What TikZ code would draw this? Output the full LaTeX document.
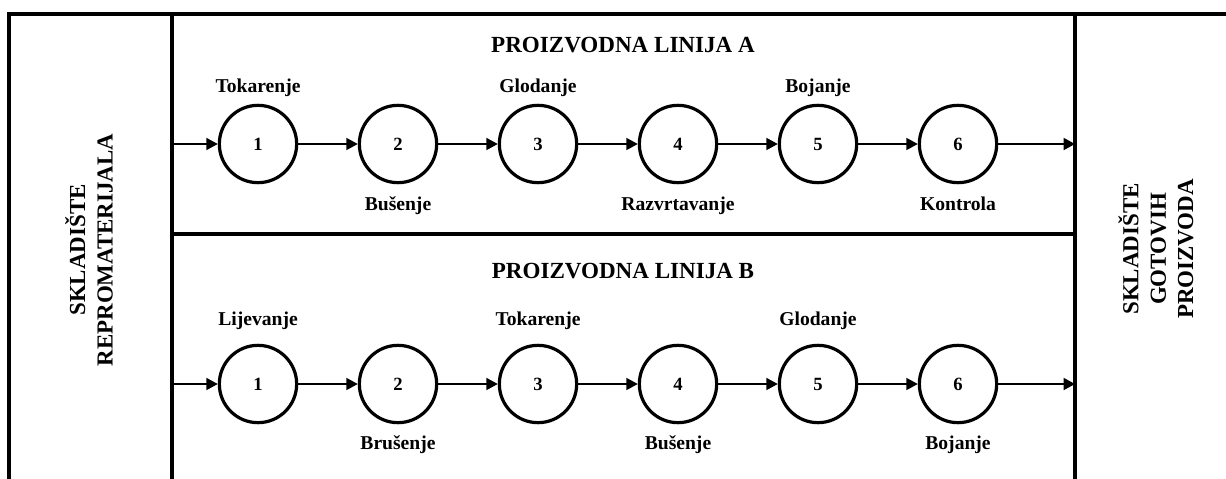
\documentclass[tikz,border=0pt]{standalone}
\usepackage{fontspec}
\setmainfont{Liberation Serif}
\usetikzlibrary{arrows.meta}

\begin{document}
\begin{tikzpicture}[x=0.75pt, y=-0.75pt,
    frame/.style={line width=2.4pt},
    op/.style={circle, draw, line width=2.4pt, minimum size=58pt, inner sep=0pt, font=\bfseries\fontsize{14}{16}\selectfont},
    flow/.style={line width=1.1pt, -{Triangle[length=8.5pt, width=9pt]}},
    lbl/.style={font=\bfseries\fontsize{14.7}{17}\selectfont},
    ttl/.style={font=\bfseries\fontsize{17.3}{20}\selectfont},
    store/.style={rotate=90, align=center, font=\bfseries\fontsize{17.2}{20.5}\selectfont}]
  \useasboundingbox (0,0) rectangle (1226,478);
  \pgfmathsetmacro{\xl}{9}
  \pgfmathsetmacro{\xa}{172}
  \pgfmathsetmacro{\xb}{1075}
  \pgfmathsetmacro{\yt}{14}
  \pgfmathsetmacro{\ym}{234}

  % frame
  \draw[frame] (\xl, 480) -- (\xl, \yt) -- (1230, \yt);
  \draw[frame] (\xa, \yt) -- (\xa, 480);
  \draw[frame] (\xb, \yt) -- (\xb, 480);
  \draw[frame] (\xa, \ym) -- (\xb, \ym);

  % stores
  \node[store] (ulaz) at (89, 250) {SKLADIŠTE\\REPROMATERIJALA};
  \node[store] (izlaz) at (1156, 249) {SKLADIŠTE\\GOTOVIH\\PROIZVODA};

  % titles
  \node[ttl] (tA) at (623, 45) {PROIZVODNA LINIJA A};
  \node[ttl] (tB) at (623, 271) {PROIZVODNA LINIJA B};

  \coordinate (inA) at (\xa, 144);
  \coordinate (outA) at (\xb, 144);
  \coordinate (inB) at (\xa, 384);
  \coordinate (outB) at (\xb, 384);

  % line A
  \foreach \i/\t/\pos/\d in {1/Tokarenje/above/2pt, 2/Bušenje/below/6pt, 3/Glodanje/above/2pt,
                             4/Razvrtavanje/below/6pt, 5/Bojanje/above/2pt, 6/Kontrola/below/6pt}
    \node[op, label={[lbl, label distance=\d]\pos:\t}] (a\i) at (118+140*\i, 144) {\i};
  % line B
  \foreach \i/\t/\pos/\d in {1/Lijevanje/above/7pt, 2/Brušenje/below/5pt, 3/Tokarenje/above/7pt,
                             4/Bušenje/below/5pt, 5/Glodanje/above/7pt, 6/Bojanje/below/5pt}
    \node[op, label={[lbl, label distance=\d]\pos:\t}] (b\i) at (118+140*\i, 384) {\i};

  \draw[flow] (inA) -- (a1);
  \draw[flow] (inB) -- (b1);
  \foreach \i [evaluate=\i as \j using int(\i+1)] in {1,...,5} {
    \draw[flow] (a\i) -- (a\j);
    \draw[flow] (b\i) -- (b\j);
  }
  \draw[flow] (a6) -- (outA);
  \draw[flow] (b6) -- (outB);
\end{tikzpicture}
\end{document}
